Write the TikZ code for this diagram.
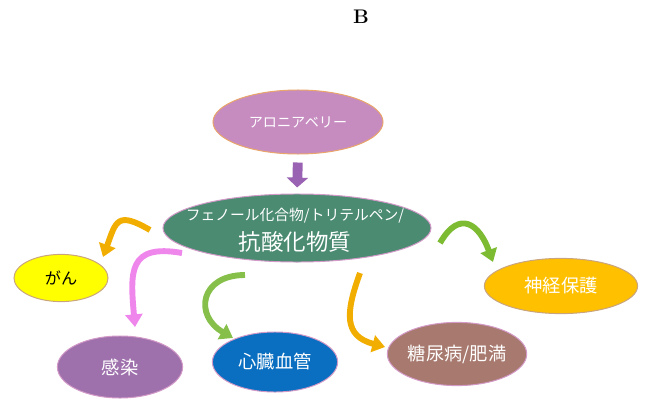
\documentclass[tikz,border=0pt]{standalone}
\usepackage{fontspec}
\usepackage{xcolor}
\newfontfamily\jp{Noto Sans CJK JP}
\usetikzlibrary{arrows.meta, positioning, shapes.geometric, calc}
\definecolor{berryfill}{HTML}{C68CC0}
\definecolor{berryline}{HTML}{E9A66A}
\definecolor{corefill}{HTML}{4A8B72}
\definecolor{rimpink}{HTML}{D39AC8}
\definecolor{ganfill}{HTML}{FFFF00}
\definecolor{ganline}{HTML}{C9A47E}
\definecolor{infectfill}{HTML}{9E71AD}
\definecolor{heartfill}{HTML}{0A6FC0}
\definecolor{obesefill}{HTML}{A8796E}
\definecolor{neurofill}{HTML}{FFC000}
\definecolor{amber}{HTML}{F2AE00}
\definecolor{violetpink}{HTML}{EE86EC}
\definecolor{leafgreen}{HTML}{86C04A}
\definecolor{lime}{HTML}{7CBB32}
\definecolor{plum}{HTML}{9A62B2}
\tikzset{
  blob/.style={
    ellipse, draw=rimpink, line width=0.7pt, inner sep=0pt,
    text=white, font=\jp\fontsize{13}{15}\selectfont
  },
  bendarrow/.style={-{Triangle[length=9pt,width=12pt]}, line width=4.2pt},
  downarrow/.style={-{Triangle[length=7pt,width=15pt]}, line width=7pt, draw=plum},
}
\begin{document}
\begin{tikzpicture}[x=0.025cm, y=0.025cm]
  \useasboundingbox (0,0) rectangle (650,416);

  \node[font=\bfseries\fontsize{14}{16}\selectfont] (title) at (361,399) {B};

  \node[blob, fill=berryfill, draw=berryline, minimum width=4.25cm, minimum height=1.6cm,
    font=\jp\fontsize{10}{12}\selectfont] (aronia) at (298,294) {アロニアベリー};

  \node[blob, fill=corefill, minimum width=6.7cm, minimum height=1.7cm] (core) at (297,188) {};
  \node[align=center, text=white, font=\jp\fontsize{10.5}{13}\selectfont] (coretext) at (295,186)
    {フェノール化合物/トリテルペン/\\[5pt]{\fontsize{16}{18}\selectfont 抗酸化物質}};

  \node[blob, fill=ganfill, draw=ganline, text=black, minimum width=2.35cm, minimum height=1.18cm,
    font=\jp\fontsize{11.5}{13}\selectfont] (gan) at (61,138) {がん};
  \node[blob, fill=infectfill, minimum width=3.13cm, minimum height=1.55cm] (kansen) at (120,49) {感染};
  \node[blob, fill=heartfill, minimum width=3.13cm, minimum height=1.5cm] (shinzo) at (275,54) {心臓血管};
  \node[blob, fill=obesefill, minimum width=3.35cm, minimum height=1.58cm] (tonyo) at (457,62) {糖尿病/肥満};
  \node[blob, fill=neurofill, draw=ganline, minimum width=3.83cm, minimum height=1.38cm] (shinkei) at (561,130) {神経保護};

  \draw[downarrow, shorten <=5.7pt, shorten >=4.3pt] (aronia.south) -- (core.north);

  % curved arrows out of the core
  \draw[bendarrow, draw=amber] ($(core.center)+(-147,-2)$) to[out=150, in=70, looseness=1.8] ($(gan.center)+(42,21)$);
  \draw[bendarrow, draw=violetpink] ($(core.center)+(-115,-25)$) to[out=170, in=95, looseness=1.6] ($(kansen.center)+(15,40)$);
  \draw[bendarrow, draw=leafgreen] ($(core.center)+(-52,-47)$) to[out=180, in=150, looseness=1.8] ($(shinzo.center)+(-42,24)$);
  \draw[bendarrow, draw=amber] ($(core.center)+(63,-45)$) to[out=250, in=165, looseness=1.4] ($(tonyo.center)+(-72,7)$);
  \draw[bendarrow, draw=lime] ($(core.center)+(143,-15)$) to[out=60, in=110, looseness=1.8] ($(shinkei.center)+(-68,24)$);
\end{tikzpicture}
\end{document}
